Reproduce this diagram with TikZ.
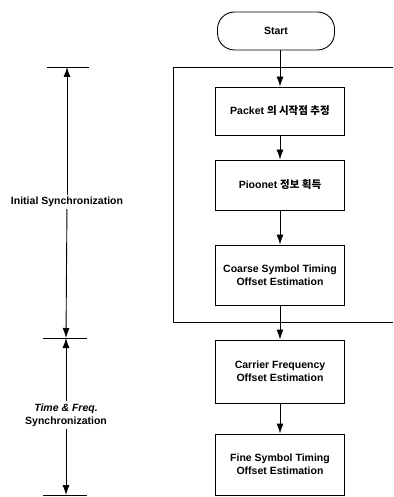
\documentclass[tikz,border=0pt]{standalone}
\usepackage{fontspec}
\setmainfont{Liberation Sans}
\newfontfamily\krfont{Noto Sans CJK KR}
\usetikzlibrary{arrows.meta,shapes}

\tikzset{
  stepbox/.style={draw, line width=0.9pt, minimum width=129pt, align=center,
    font=\bfseries\fontsize{10.5}{13}\selectfont},
  link/.style={-{Latex[length=10pt,width=7pt]}, line width=0.9pt},
  phase/.style={fill=white, align=center, inner sep=2pt,
    font=\bfseries\fontsize{10.5}{13}\selectfont},
}

\begin{document}
\begin{tikzpicture}[x=1pt,y=-1pt]
\useasboundingbox (0,0) rectangle (393,497);
%start:
\node[draw, line width=0.9pt, rounded corners=17pt, minimum width=117pt, minimum height=38pt,
  font=\bfseries\fontsize{10.5}{13}\selectfont] (start) at (276,31) {Start};
%initial synchronization block:
\draw[line width=0.9pt] (393,67) -- (173,67) -- (173,322) -- (393,322);
\node[stepbox, minimum height=48pt] (packet) at (280,111) {Packet {\krfont 의 시작점 추정}};
\node[stepbox, minimum height=50pt] (pico) at (280,185) {Pioonet {\krfont 정보 획득}};
\node[stepbox, minimum height=60pt] (coarse) at (280,275) {Coarse Symbol Timing\\Offset Estimation};
%time and freq. block:
\node[stepbox, minimum height=63pt] (carrier) at (280,371.5) {Carrier Frequency\\Offset Estimation};
\node[stepbox, minimum height=61pt] (fine) at (280,464.5) {Fine Symbol Timing\\Offset Estimation};
%flow:
\draw[link] (start.south -| packet.north) -- (packet);
\draw[link] (packet) -- (pico);
\draw[link] (pico) -- (coarse);
\draw[link] (coarse) -- (carrier);
\draw[link] (carrier) -- (fine);
%left ticks:
\coordinate (ttop) at (67,67);
\coordinate (tmid) at (66,338);
\coordinate (tbot) at (66,495);
\draw[line width=0.8pt] (47,67) -- (89,67);
\draw[line width=0.8pt] (43,338) -- (87,338);
\draw[line width=0.8pt] (43,495) -- (87,495);
%phase labels:
\node[phase] (initlbl) at (67,202) {Initial Synchronization};
\node[phase] (tflbl) at (66,415) {\itshape Time \& Freq.\\Synchronization};
\draw[link] (initlbl) -- (ttop);
\draw[link] (initlbl) -- (tmid);
\draw[link] (tflbl) -- (tmid);
\draw[link] (tflbl) -- (tbot);
\end{tikzpicture}
\end{document}
